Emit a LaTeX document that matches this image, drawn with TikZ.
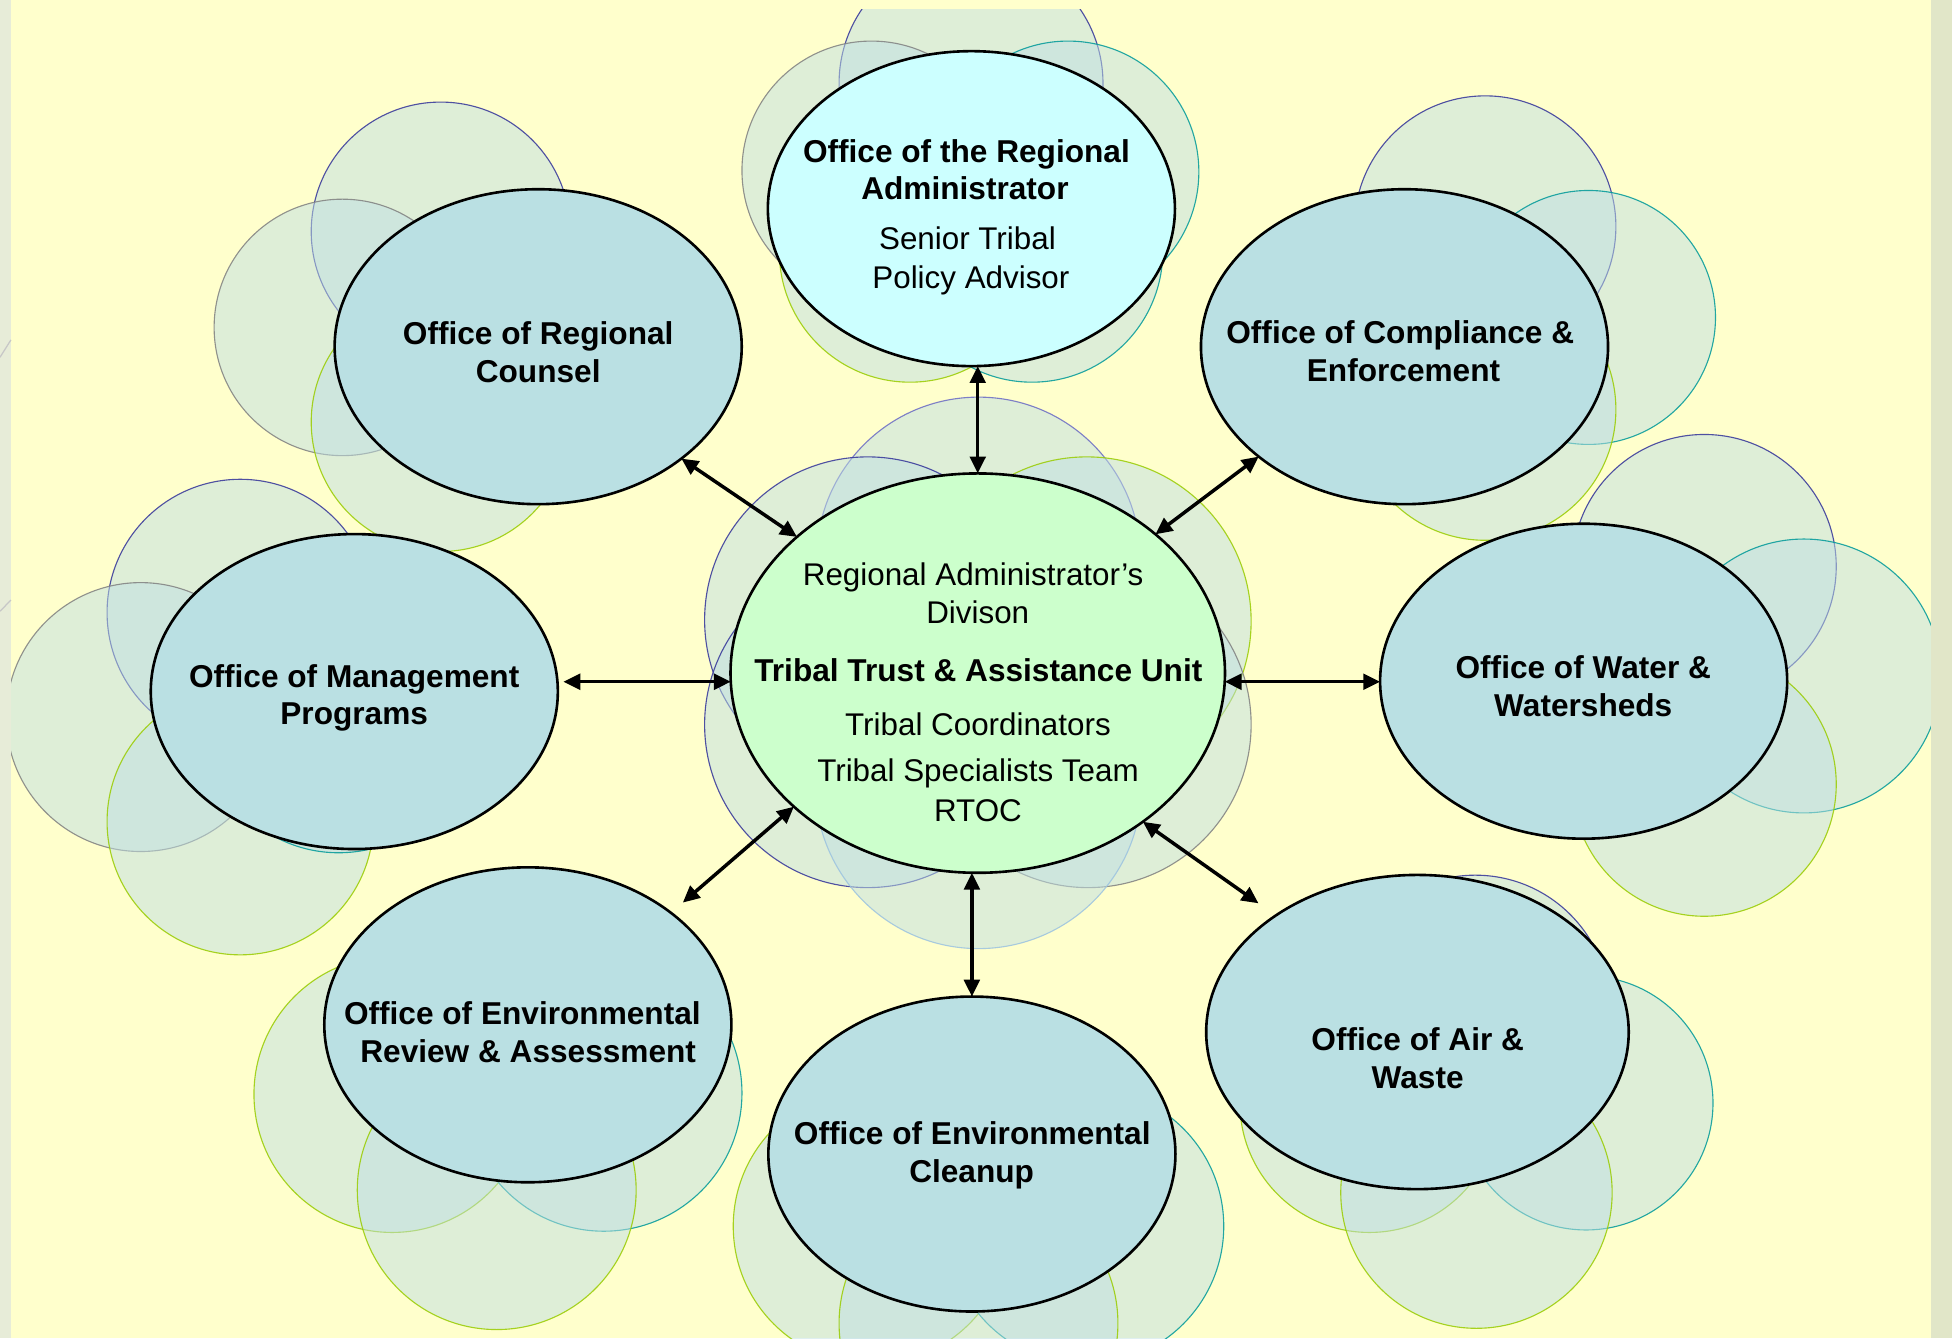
\documentclass[tikz,border=0pt]{standalone}
\usepackage{fontspec}
\setmainfont{Liberation Sans}
\usetikzlibrary{arrows.meta,shapes.geometric}
\definecolor{bgyellow}{HTML}{FFFFCC}
\definecolor{stripL}{HTML}{E7ECD8}
\definecolor{stripR}{HTML}{E1E6C8}
\definecolor{officefill}{HTML}{BAE0E3}
\definecolor{orafill}{HTML}{CCFFFF}
\definecolor{cenfill}{HTML}{CCFFCC}
\definecolor{bubfill}{HTML}{BFDFE3}
\definecolor{dblue}{HTML}{333399}
\definecolor{mblue}{HTML}{6A6AC4}
\definecolor{pblue}{HTML}{9CC3E0}
\definecolor{bgray}{HTML}{808080}
\definecolor{bteal}{HTML}{009999}
\definecolor{ygreen}{HTML}{99CC00}
\tikzset{
  office/.style={ellipse, draw=black, line width=2.1pt, fill=officefill, inner sep=0pt, outer sep=0pt,
                 minimum width=327pt, minimum height=253pt},
  bub/.style={fill=bubfill, fill opacity=0.5, draw opacity=0.85, line width=0.9pt},
  lbl/.style={anchor=base, inner sep=0pt, font=\fontsize{25.4}{30}\selectfont\bfseries},
  sub/.style={anchor=base, inner sep=0pt, font=\fontsize{25.2}{30}\selectfont},
  link/.style={{Triangle[length=13.5pt,width=12.5pt]}-{Triangle[length=13.5pt,width=12.5pt]}, line width=2.8pt, black},
  stripline/.style={draw=black!22, line width=1pt}
}
\begin{document}
\begin{tikzpicture}[x=1pt,y=-1pt]
\useasboundingbox (0,0) rectangle (1568,1075);
\fill[bgyellow] (0,0) rectangle (1568,1075);

% background bubbles
\begin{scope}
\clip (8.8,8) rectangle (1551,1075);
% ORA cluster
\draw[bub, draw=dblue]  (780,67)  circle[radius=106pt];
\draw[bub, draw=bgray]  (700,137) circle[radius=104pt];
\draw[bub, draw=bteal]  (858,138) circle[radius=105pt];
\draw[bub, draw=ygreen] (731,202) circle[radius=105pt];
\draw[bub, draw=bteal]  (829,202) circle[radius=105pt];
% Counsel cluster
\draw[bub, draw=dblue]  (354,186) circle[radius=104pt];
\draw[bub, draw=bgray]  (275,263) circle[radius=103pt];
\draw[bub, draw=ygreen] (354,339) circle[radius=104pt];
% Compliance cluster
\draw[bub, draw=dblue]  (1193,182) circle[radius=105pt];
\draw[bub, draw=bteal]  (1276,255) circle[radius=102pt];
\draw[bub, draw=ygreen] (1193,329) circle[radius=105pt];
% Management cluster
\draw[bub, draw=dblue]  (193,492) circle[radius=107pt];
\draw[bub, draw=bgray]  (113,576) circle[radius=108pt];
\draw[bub, draw=ygreen] (193,660) circle[radius=107pt];
\draw[bub, draw=bteal]  (272,577) circle[radius=108pt];
% Water cluster
\draw[bub, draw=dblue]  (1369,455) circle[radius=106pt];
\draw[bub, draw=bteal]  (1449,543) circle[radius=110pt];
\draw[bub, draw=ygreen] (1369,630) circle[radius=106pt];
% ERA cluster
\draw[bub, draw=ygreen] (315,879) circle[radius=111pt];
\draw[bub, draw=bteal]  (485,878) circle[radius=111pt];
\draw[bub, draw=ygreen] (399,956) circle[radius=112pt];
% Cleanup cluster
\draw[bub, draw=ygreen] (700,985) circle[radius=111pt];
\draw[bub, draw=bteal]  (872,985) circle[radius=111pt];
\draw[bub, draw=ygreen] (786,1063) circle[radius=112pt];
% Air cluster
\draw[bub, draw=dblue]  (1185,811) circle[radius=108pt];
\draw[bub, draw=bteal]  (1274,886) circle[radius=102pt];
\draw[bub, draw=ygreen] (1100,886) circle[radius=104pt];
\draw[bub, draw=ygreen] (1186,958) circle[radius=109pt];
% Central cluster
\draw[bub, draw=mblue]  (786,449) circle[radius=130pt];
\draw[bub, draw=dblue]  (697,498) circle[radius=131pt];
\draw[bub, draw=ygreen] (873,499) circle[radius=132pt];
\draw[bub, draw=dblue]  (697,582) circle[radius=131pt];
\draw[bub, draw=bgray]  (874,582) circle[radius=131pt];
\draw[bub, draw=pblue]  (786,631) circle[radius=131pt];
\end{scope}

% ellipses
\node[office, fill=orafill] (ora) at (780.3,167.6) {};
\node[office] (cns)   at (432.3,278.5) {};
\node[office] (cmp)   at (1128.2,278.5) {};
\node[office] (mgmt)  at (284.6,555.5) {};
\node[office] (wat)   at (1272.1,547.2) {};
\node[office] (era)   at (424,823.2) {};
\node[office] (clean) at (780.7,927) {};
\node[office, minimum width=339.4pt, minimum height=252.4pt] (air) at (1138.6,829) {};
\node[office, fill=cenfill, minimum width=397.2pt, minimum height=320.8pt] (cen) at (785.4,540.7) {};

% texts
\node[lbl] (ora1) at (776.3,130.2) {Office of the Regional};
\node[lbl] (ora2) at (775.1,160.6) {Administrator};
\node[sub] (ora3) at (777.1,200.8) {Senior Tribal};
\node[sub] (ora4) at (779.9,231.6) {Policy Advisor};

\node[lbl] (cns1) at (432.3,277.1) {Office of Regional};
\node[lbl] (cns2) at (432.3,307.1) {Counsel};

\node[lbl] (cmp1) at (1124.8,276.3) {Office of Compliance \&};
\node[lbl] (cmp2) at (1127.4,306.6) {Enforcement};

\node[lbl] (mgmt1) at (284.5,552.1) {Office of Management};
\node[lbl] (mgmt2) at (284.5,582.3) {Programs};

\node[lbl] (wat1) at (1271.8,544.8) {Office of Water \&};
\node[lbl] (wat2) at (1271.8,575.4) {Watersheds};

\node[lbl] (era1) at (419.6,823.3) {Office of Environmental};
\node[lbl] (era2) at (424.3,853.3) {Review \& Assessment};

\node[lbl] (clean1) at (781,919.7) {Office of Environmental};
\node[lbl] (clean2) at (780.5,949.9) {Cleanup};

\node[lbl] (air1) at (1138.8,843.9) {Office of Air \&};
\node[lbl] (air2) at (1138.8,874.2) {Waste};

\node[sub] (cen1) at (781.7,470.2) {Regional Administrator’s};
\node[sub] (cen2) at (785.4,501.2) {Divison};
\node[lbl] (cen3) at (785.9,547.6) {Tribal Trust \& Assistance Unit};
\node[sub] (cen4) at (785.6,590.7) {Tribal Coordinators};
\node[sub] (cen5) at (785.6,627.9) {Tribal Specialists Team};
\node[sub] (cen6) at (785.6,660.1) {RTOC};

% connectors
\coordinate (eraTip) at (548.5,725);
\coordinate (airTip) at (1010.9,725.6);
\draw[link] (ora.south -| cen.north) -- (cen.north);
\draw[link] (clean.north) -- (clean.north |- cen.south);
\draw[link] (cns.322.3) -- (cen.143.35);
\draw[link] (cmp.217.3) -- (cen.38.6);
\draw[link, shorten <=4.5pt] (mgmt.east |- cen.182) -- (cen.182);
\draw[link] (cen.358) -- (cen.358 -| wat.west);
\draw[link] (cen.216.9) -- (eraTip);
\draw[link] (cen.318.1) -- (airTip);

% side strips
\fill[stripL] (0,0) rectangle (8.8,1075);
\fill[stripR] (1551,0) rectangle (1568,1075);
\draw[stripline] (0,287) -- (8.8,273);
\draw[stripline] (0,491) -- (8.8,482);
\end{tikzpicture}
\end{document}
